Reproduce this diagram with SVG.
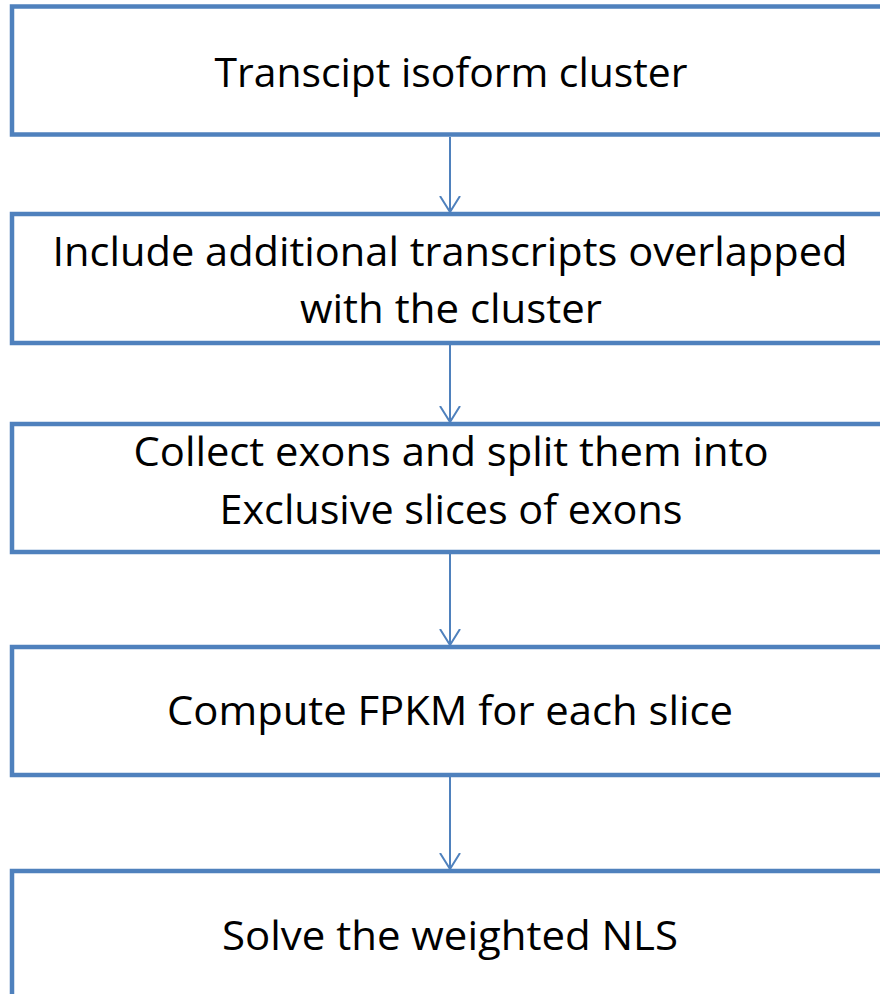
<svg xmlns="http://www.w3.org/2000/svg" width="880" height="994" viewBox="0 0 880 994">
<defs>
<style>
.box{fill:#FFFFFF;stroke:#4F81BD;stroke-width:4.5}
.lbl{font-family:"Open Sans","Liberation Sans",sans-serif;font-size:41px;fill:#000000;text-anchor:middle}
.conn line{stroke:#4F81BD;stroke-width:2}
</style>
<marker id="arr" viewBox="0 0 17 22" refX="16" refY="11" markerWidth="17" markerHeight="22" markerUnits="userSpaceOnUse" orient="auto">
<polyline points="0,1 16,11 0,21" fill="none" stroke="#4F81BD" stroke-width="2"/>
</marker>
</defs>
<rect width="880" height="994" fill="#FFFFFF"/>
<g id="n1">
<rect class="box" x="12" y="6.5" width="880" height="128"/>
<text class="lbl" x="451" y="87" textLength="473" lengthAdjust="spacingAndGlyphs">Transcipt isoform cluster</text>
</g>
<g id="n2">
<rect class="box" x="12" y="214" width="880" height="129"/>
<text class="lbl" x="450" y="266" textLength="795" lengthAdjust="spacingAndGlyphs">Include additional transcripts overlapped</text>
<text class="lbl" x="451" y="323" textLength="302" lengthAdjust="spacingAndGlyphs">with the cluster</text>
</g>
<g id="n3">
<rect class="box" x="12" y="424" width="880" height="128"/>
<text class="lbl" x="451" y="466" textLength="635" lengthAdjust="spacingAndGlyphs">Collect exons and split them into</text>
<text class="lbl" x="451" y="524" textLength="463" lengthAdjust="spacingAndGlyphs">Exclusive slices of exons</text>
</g>
<g id="n4">
<rect class="box" x="12" y="647" width="880" height="128"/>
<text class="lbl" x="450" y="725" textLength="566" lengthAdjust="spacingAndGlyphs">Compute FPKM for each slice</text>
</g>
<g id="n5">
<rect class="box" x="12" y="871" width="880" height="140"/>
<text class="lbl" x="450" y="950" textLength="456" lengthAdjust="spacingAndGlyphs">Solve the weighted NLS</text>
</g>
<g id="connectors" class="conn">
<line x1="450" y1="137" x2="450" y2="212" marker-end="url(#arr)"/>
<line x1="450" y1="345" x2="450" y2="422" marker-end="url(#arr)"/>
<line x1="450" y1="554" x2="450" y2="645" marker-end="url(#arr)"/>
<line x1="450" y1="777" x2="450" y2="869" marker-end="url(#arr)"/>
</g>
</svg>
